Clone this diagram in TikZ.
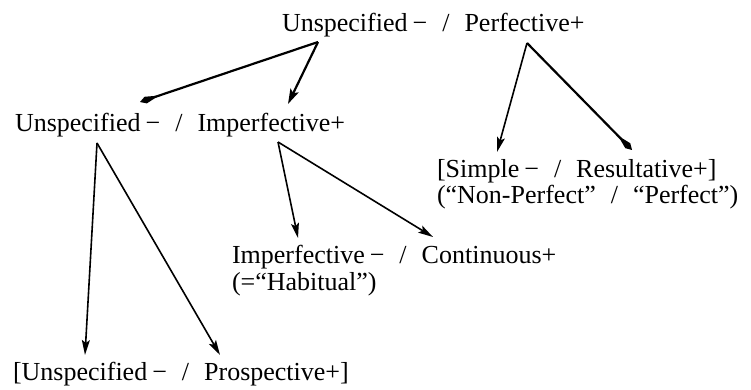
\documentclass[tikz,border=0pt]{standalone}
\usepackage{fontspec}
\setmainfont{Liberation Serif}
\usetikzlibrary{arrows.meta,calc}

\tikzset{
  lbl/.style={anchor=base west, inner sep=0pt, outer sep=0pt,
              font=\fontsize{26}{27}\selectfont},
  thinarr/.style={line width=1.6pt, -{Stealth[length=15pt, width=8pt, inset=3pt]}},
  thickarr/.style={line width=2.2pt, -{Stealth[length=15pt, width=9pt, inset=3pt]}},
  kitearr/.style={line width=2.2pt, -{Kite[length=20pt, width=7pt, inset=14pt]}},
}

% "minus" feature value and the slash between the two values
\newcommand{\featminus}{\hspace{5pt}−}
\newcommand{\featsep}{\hspace{15pt}/\hspace{15pt}}

\begin{document}
\begin{tikzpicture}[x=1pt, y=-1pt]
  \useasboundingbox (0,0) rectangle (751,390);

  % feature labels
  \node[lbl] (perf)  at (282,32)  {Unspecified\featminus\featsep Perfective+};
  \node[lbl] (imp)   at (15,132)  {Unspecified\featminus\featsep Imperfective+};
  \node[lbl] (res)   at (437,177) {[Simple\featminus\featsep Resultative+]};
  \node[lbl] (resg)  at (437,203) {(“Non-Perfect”\featsep “Perfect”)};
  \node[lbl] (cont)  at (232,263) {Imperfective\featminus\featsep Continuous+};
  \node[lbl] (contg) at (232,290) {(=“Habitual”)};
  \node[lbl] (pros)  at (13,380)  {[Unspecified\featminus\featsep Prospective+]};

  % branch points under the feature words
  \coordinate (pU) at ($(perf.base west)+(36,10)$);
  \coordinate (pP) at ($(perf.base west)+(245,11)$);
  \coordinate (iU) at ($(imp.base west)+(82,11)$);
  \coordinate (iI) at ($(imp.base west)+(263,10)$);

  % arrow ends above the daughter labels
  \coordinate (tImpL) at ($(imp.base west)+(125,-30)$);
  \coordinate (tImpR) at ($(imp.base west)+(273,-28)$);
  \coordinate (tResL) at ($(res.base west)+(60,-25)$);
  \coordinate (tResR) at ($(res.base west)+(195,-27)$);
  \coordinate (tProL) at ($(pros.base west)+(72,-25)$);
  \coordinate (tProR) at ($(pros.base west)+(207,-25)$);
  \coordinate (tConL) at ($(cont.base west)+(66,-25)$);
  \coordinate (tConR) at ($(cont.base west)+(201,-26)$);

  % branches
  \draw[kitearr]  (pU) -- (tImpL);
  \draw[thickarr] (pU) -- (tImpR);
  \draw[thinarr]  (pP) -- (tResL);
  \draw[kitearr]  (pP) -- (tResR);
  \draw[thinarr]  (iU) -- (tProL);
  \draw[thinarr]  (iU) -- (tProR);
  \draw[thinarr]  (iI) -- (tConL);
  \draw[thinarr]  (iI) -- (tConR);
\end{tikzpicture}
\end{document}
